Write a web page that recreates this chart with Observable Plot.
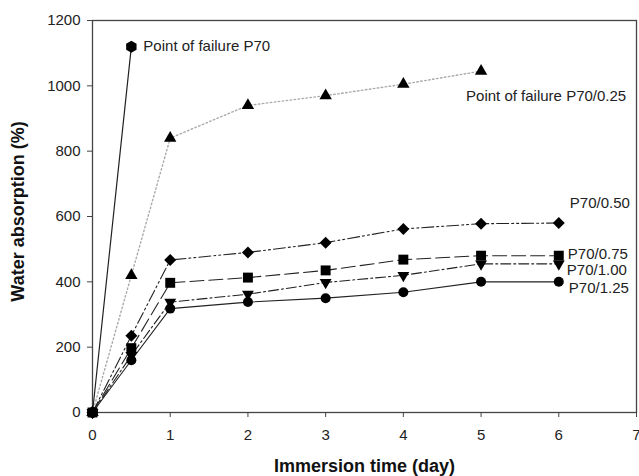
<!DOCTYPE html>
<html>
<head>
<meta charset="utf-8">
<script src="https://cdn.jsdelivr.net/npm/d3@7"></script>
<script src="https://cdn.jsdelivr.net/npm/@observablehq/plot@0.6"></script>
<style>
  html, body { margin: 0; padding: 0; background: #fff; }
  #chart svg { font-family: "Liberation Sans", Arial, sans-serif; }
</style>
</head>
<body>
<div id="chart"></div>
<script>
// ---- data ----
const days = [0, 0.5, 1, 2, 3, 4, 5, 6];
const daysP70 = [0, 0.5];
const daysP70_025 = [0, 0.5, 1, 2, 3, 4, 5];
const p70 = [0, 1120];
const p70_025 = [0, 420, 840, 940, 970, 1005, 1045];
const p70_050 = [0, 235, 467, 490, 520, 562, 578, 580];
const p70_075 = [0, 197, 397, 413, 435, 468, 480, 480];
const p70_100 = [0, 175, 338, 362, 398, 420, 455, 455];
const p70_125 = [0, 160, 318, 338, 350, 368, 400, 400];
const seriesLabels = ["Point of failure P70", "Point of failure P70/0.25", "P70/0.50", "P70/0.75", "P70/1.00", "P70/1.25"];
const xTicks = [0, 1, 2, 3, 4, 5, 6, 7];
const yTicks = [0, 200, 400, 600, 800, 1000, 1200];
const xLabel = "Immersion time (day)";
const yLabel = "Water absorption (%)";

// ---- build tables ----
const zip = (xs, ys) => xs.map((x, i) => ({x, y: ys[i]}));
const triangleDown = {
  draw(context, size) {
    const y = Math.sqrt(size / (Math.sqrt(3) * 3));
    context.moveTo(0, 2 * y);
    context.lineTo(-Math.sqrt(3) * y, -y);
    context.lineTo(Math.sqrt(3) * y, -y);
    context.closePath();
  }
};
const series = [
  {data: zip(daysP70, p70), symbol: "hexagon", r: 5.2, stroke: "#222", dash: null, width: 1.2, label: seriesLabels[0], dx: 12, dy: 0},
  {data: zip(daysP70_025, p70_025), symbol: "triangle", r: 4.6, stroke: "#aaa", dash: "1.5,2.5", width: 1.4, label: seriesLabels[1], dx: -15, dy: 25},
  {data: zip(days, p70_050), symbol: "diamond2", r: 5.4, stroke: "#222", dash: "12,3,2,3,2,3", width: 1.1, label: seriesLabels[2], dx: 11, dy: -20},
  {data: zip(days, p70_075), symbol: "square", r: 5.6, stroke: "#222", dash: "14,5", width: 1.1, label: seriesLabels[3], dx: 9, dy: -2},
  {data: zip(days, p70_100), symbol: triangleDown, r: 4.4, stroke: "#222", dash: "10,3,2,3", width: 1.1, label: seriesLabels[4], dx: 8, dy: 6},
  {data: zip(days, p70_125), symbol: "circle", r: 5, stroke: "#222", dash: null, width: 1.1, label: seriesLabels[5], dx: 10, dy: 6}
];

const marks = [];
for (const s of series) {
  marks.push(Plot.line(s.data, {x: "x", y: "y", stroke: s.stroke, strokeWidth: s.width, strokeDasharray: s.dash || undefined}));
}
for (const s of series) {
  marks.push(Plot.dot(s.data, {x: "x", y: "y", symbol: () => s.symbol, r: s.r, fill: "#000", stroke: "none"}));
  const last = s.data[s.data.length - 1];
  marks.push(Plot.text([last], {x: "x", y: "y", text: () => s.label, textAnchor: "start", dx: s.dx, dy: s.dy, fontSize: 15, fill: "#222"}));
}

const chart = Plot.plot({
  width: 639,
  height: 476,
  marginLeft: 92,
  marginRight: 3,
  marginTop: 20,
  marginBottom: 64,
  style: {fontFamily: "Liberation Sans, Arial, sans-serif", fontSize: "15px", color: "#222", background: "#fff"},
  x: {domain: [0, 7]},
  y: {domain: [0, 1200]},
  symbol: {type: "identity"},
  marks: [
    Plot.axisX({ticks: xTicks, tickFormat: d3.format("d"), tickSize: 5, tickPadding: 12, label: null, fontSize: 15, stroke: "#444"}),
    Plot.axisY({ticks: yTicks, tickFormat: d3.format("d"), tickSize: 5, tickPadding: 7, label: null, fontSize: 15, stroke: "#444"}),
    Plot.frame({stroke: "#444", strokeWidth: 1.3}),
    ...marks,
    Plot.text([xLabel], {text: d => d, frameAnchor: "bottom", textAnchor: "middle", lineAnchor: "middle", dy: 54, fontSize: 18, fontWeight: "bold", fill: "#111"}),
    Plot.text([yLabel], {text: d => d, frameAnchor: "left", textAnchor: "middle", lineAnchor: "middle", dx: -74, dy: -5, rotate: -90, fontSize: 18, fontWeight: "bold", fill: "#111"})
  ]
});
document.getElementById("chart").appendChild(chart);
</script>
</body>
</html>
